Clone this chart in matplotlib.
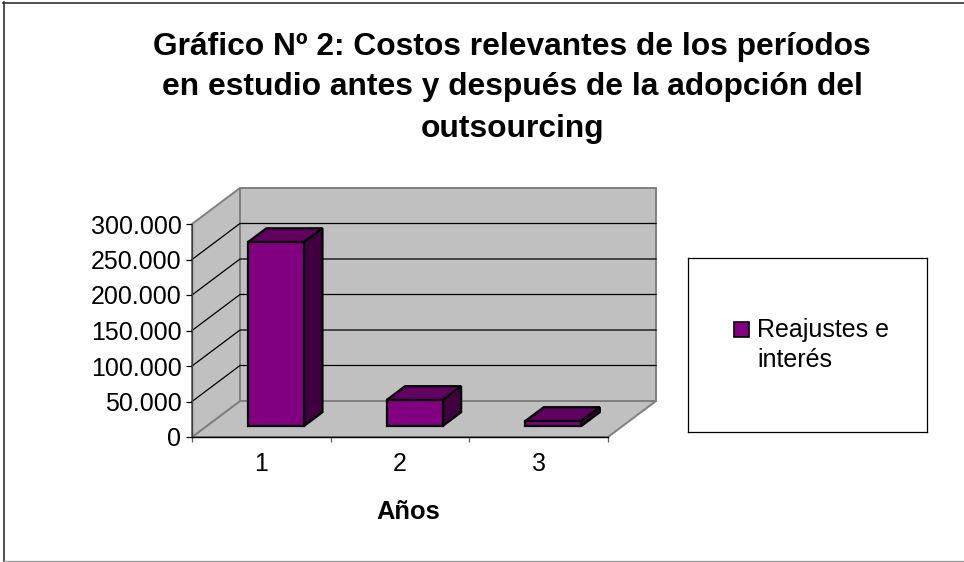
#!/usr/bin/env python
import matplotlib
matplotlib.use('Agg')
import pylab as plt
from matplotlib.lines import Line2D
from matplotlib.patches import Polygon, Rectangle

categories = ['1', '2', '3']
reajustes = [259000, 36600, 7000]
yticks = [0, 50000, 100000, 150000, 200000, 250000, 300000]
ylabels = ['0', '50.000', '100.000', '150.000', '200.000', '250.000', '300.000']
title_lines = [u'Gráfico Nº 2: Costos relevantes de los períodos',
               u'en estudio antes y después de la adopción del',
               u'outsourcing']
xlabel = u'Años'
series = [u'Reajustes e', u'interés']

W, H = 964., 562.
plt.rcParams['font.family'] = ['Liberation Sans', 'DejaVu Sans']

# oblique depth of the excel 3d box, in axis units
YMAX = 300000.
DX = 48/(416/3.)
DY = 36/(213/YMAX)
D0, D1 = 0.305, 0.69
BAR = 0.404

def proj(x, v, d):
    return (x + d*DX, v + d*DY)

def px_axes(x0, y0, x1, y1):
    return [x0/W, 1 - y1/H, (x1 - x0)/W, (y1 - y0)/H]

def frame_line(x, y, **kw):
    fig.add_artist(Line2D([i/W for i in x], [1 - i/H for i in y],
                          transform=fig.transFigure, **kw))

fig = plt.figure(figsize=(W/100, H/100), dpi=100)
frame_line([3, 964], [2.5, 2.5], color='#202020', lw=1.1)
frame_line([4, 4], [2, 561], color='#303030', lw=1.2)
frame_line([4, 964], [561, 561], color='#a0a0a0', lw=1.0)

ax = fig.add_axes(px_axes(192, 224, 608, 437))
ax.set_xlim(0.5, 3.5)
ax.set_ylim(0, YMAX)
ax.patch.set_visible(False)

def poly(pts, zorder=1, **kw):
    p = Polygon(pts, closed=True, clip_on=False, zorder=zorder, **kw)
    ax.add_patch(p)

wall = dict(fc='#c0c0c0', ec='#808080', lw=1.4, joinstyle='miter')
poly([proj(0.5, 0, 0), proj(3.5, 0, 0), proj(3.5, 0, 1), proj(0.5, 0, 1)], **wall)
poly([proj(0.5, 0, 0), proj(0.5, 0, 1), proj(0.5, YMAX, 1), proj(0.5, YMAX, 0)], **wall)
poly([proj(0.5, 0, 1), proj(3.5, 0, 1), proj(3.5, YMAX, 1), proj(0.5, YMAX, 1)], **wall)

for v in yticks[1:-1]:
    p = [proj(0.5, v, 0), proj(0.5, v, 1), proj(3.5, v, 1)]
    ax.plot([q[0] for q in p], [q[1] for q in p], color='black', lw=0.9,
            clip_on=False, zorder=2)

edge = dict(ec='black', lw=1.6, joinstyle='miter')
for i, v in enumerate(reajustes):
    l, r = i + 1 - BAR/2, i + 1 + BAR/2
    poly([proj(l, 0, D0), proj(r, 0, D0), proj(r, v, D0), proj(l, v, D0)],
         zorder=5, fc='#800080', **edge)
    poly([proj(l, v, D0), proj(r, v, D0), proj(r, v, D1), proj(l, v, D1)],
         zorder=4, fc='#600060', **edge)
    poly([proj(r, 0, D0), proj(r, 0, D1), proj(r, v, D1), proj(r, v, D0)],
         zorder=4, fc='#400040', **edge)

for s in ['top', 'right']:
    ax.spines[s].set_visible(False)
ax.spines['left'].set_color('#404040')
ax.spines['left'].set_linewidth(1.0)
ax.spines['bottom'].set_linewidth(1.0)
ax.spines['left'].set_zorder(3)
ax.spines['bottom'].set_zorder(3)

ax.set_yticks(yticks)
ax.set_yticklabels(ylabels, fontsize=18)
ax.tick_params(axis='y', length=4, width=0.9, pad=3.6)
ax.set_xticks([0.5, 1.5, 2.5, 3.5])
ax.set_xticklabels([])
ax.set_xticks([1, 2, 3], minor=True)
ax.set_xticklabels(categories, minor=True, fontsize=18)
ax.tick_params(axis='x', which='major', length=3.5, width=0.9, color='#606060')
ax.tick_params(axis='x', which='minor', length=0, pad=11)
ax.set_xlabel(xlabel, fontsize=18.4, fontweight='bold', va='baseline')
ax.xaxis.set_label_coords(0.52, -82/213.)

for y, s in zip([55, 95, 137], title_lines):
    fig.text(512/W, 1 - y/H, s, ha='center', va='baseline', fontsize=22.9,
             fontweight='bold')

# legend box
lg = fig.add_axes(px_axes(688, 258, 927, 432))
lg.set_xticks([])
lg.set_yticks([])
for s in lg.spines.values():
    s.set_linewidth(0.9)
lg.add_patch(Rectangle((733.5/W, 1 - 336.5/H), 15/W, 15/H, transform=fig.transFigure,
                       fc='#800080', ec='black', lw=1.2, clip_on=False))
for y, s in zip([337, 367], series):
    fig.text(757/W, 1 - y/H, s, ha='left', va='baseline', fontsize=18)

plt.savefig('out.png', dpi=100)
